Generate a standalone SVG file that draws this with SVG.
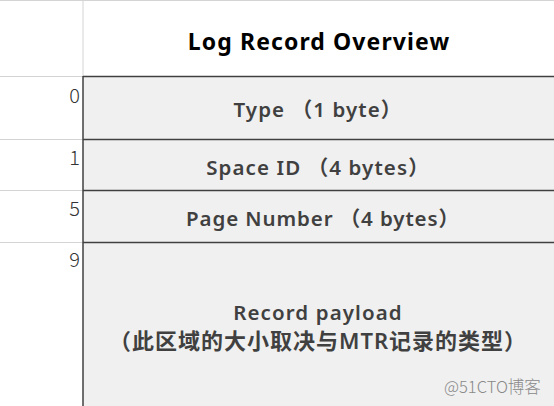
<svg xmlns="http://www.w3.org/2000/svg" width="554" height="406" viewBox="0 0 554 406">
<style>
.grid{stroke:#d4d4d4;stroke-width:1;fill:none}
.dark{stroke:#404040;stroke-width:1.5;fill:none}
.cell{fill:#f0f0f0}
.title{font-family:"Noto Sans","Noto Sans CJK SC",sans-serif;font-weight:bold;font-size:23px;letter-spacing:1.1px;fill:#000;text-anchor:middle}
.lbl{font-family:"Noto Sans","Noto Sans CJK SC",sans-serif;font-weight:600;font-size:20.5px;letter-spacing:1.1px;fill:#404040;text-anchor:middle}
.cjk{font-size:22px;letter-spacing:1px}
.num{font-family:"Noto Sans CJK SC","Noto Sans",sans-serif;font-weight:300;font-size:20px;fill:#333;text-anchor:end}
.wm{font-family:"Noto Sans CJK SC","Noto Sans",sans-serif;font-weight:300;font-size:16.5px;fill:#888}
</style>
<rect x="0" y="0" width="554" height="406" fill="#fff"/>
<g id="grid">
<line class="grid" x1="0" y1="0.5" x2="554" y2="0.5"/>
<line class="grid" x1="83" y1="0" x2="83" y2="77"/>
<line class="grid" x1="0" y1="76.5" x2="83" y2="76.5"/>
<line class="grid" x1="0" y1="139.5" x2="83" y2="139.5"/>
<line class="grid" x1="0" y1="190.5" x2="83" y2="190.5"/>
<line class="grid" x1="0" y1="242.5" x2="83" y2="242.5"/>
</g>
<g id="title"><text class="title" x="319" y="50">Log Record Overview</text></g>
<g id="offsets">
<text class="num" x="80" y="103">0</text>
<text class="num" x="80" y="165">1</text>
<text class="num" x="80" y="216">5</text>
<text class="num" x="80" y="267">9</text>
</g>
<g id="type">
<rect class="cell" x="83" y="76.5" width="471" height="63"/>
<text class="lbl" x="318" y="117">Type （1 byte）</text>
</g>
<g id="space-id">
<rect class="cell" x="83" y="139.5" width="471" height="51"/>
<text class="lbl" x="318" y="175">Space ID （4 bytes）</text>
</g>
<g id="page-number">
<rect class="cell" x="83" y="190.5" width="471" height="52"/>
<text class="lbl" x="323" y="226" style="letter-spacing:0.9px">Page Number （4 bytes）</text>
</g>
<g id="payload">
<rect class="cell" x="83" y="242.5" width="471" height="164"/>
<text class="lbl" x="318" y="320">Record payload</text>
<text class="lbl cjk" x="318" y="349">（此区域的大小取决与MTR记录的类型）</text>
</g>
<g id="borders">
<line class="dark" x1="83" y1="76.5" x2="554" y2="76.5"/>
<line class="dark" x1="83" y1="139.5" x2="554" y2="139.5"/>
<line class="dark" x1="83" y1="190.5" x2="554" y2="190.5"/>
<line class="dark" x1="83" y1="242.5" x2="554" y2="242.5"/>
<line class="dark" x1="83" y1="76" x2="83" y2="406"/>
</g>
<g id="connectors"></g>
<text class="wm" x="444" y="393">@51CTO博客</text>
</svg>
